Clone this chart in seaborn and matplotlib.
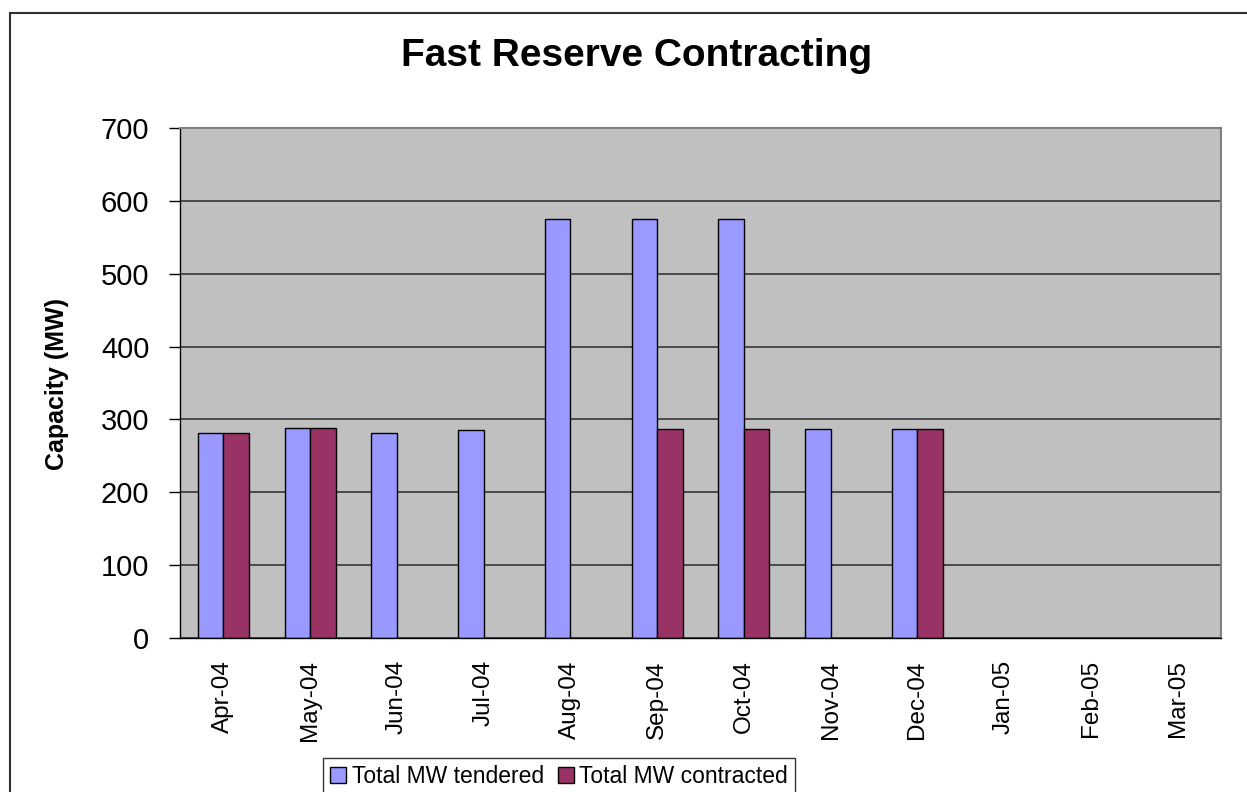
import numpy as np
import pandas as pd
import matplotlib.pyplot as plt
import seaborn as sns
from matplotlib.patches import Patch, Rectangle

# ------------------------------------------------------------
# Data
# ------------------------------------------------------------
MONTHS = ['Apr-04', 'May-04', 'Jun-04', 'Jul-04', 'Aug-04', 'Sep-04',
          'Oct-04', 'Nov-04', 'Dec-04', 'Jan-05', 'Feb-05', 'Mar-05']
TENDERED = [282, 288, 282, 286, 575, 575, 575, 287, 287, np.nan, np.nan, np.nan]
CONTRACTED = [282, 288, np.nan, np.nan, np.nan, 287, 287, np.nan, 287, np.nan, np.nan, np.nan]
SERIES = ['Total MW tendered', 'Total MW contracted']
COLORS = ['#9999FF', '#993366']
Y_TICKS = [0, 100, 200, 300, 400, 500, 600, 700]

TITLE = 'Fast Reserve Contracting'
Y_LABEL = 'Capacity (MW)'

W, H = 1247, 792

# ------------------------------------------------------------
# Plot
# ------------------------------------------------------------
sns.set_style('white')
plt.rcParams['font.family'] = ['Liberation Sans', 'DejaVu Sans']
for key in ['text.color', 'axes.labelcolor', 'xtick.color', 'ytick.color']:
    plt.rcParams[key] = 'black'

df = pd.DataFrame({
    'month': MONTHS * 2,
    'series': [SERIES[0]] * len(MONTHS) + [SERIES[1]] * len(MONTHS),
    'mw': TENDERED + CONTRACTED,
})

fig = plt.figure(figsize=(W / 100, H / 100), dpi=100)
ax = fig.add_axes([180 / W, 1 - 638 / H, (1221 - 180) / W, (638 - 128) / H])
ax.set_facecolor('#C0C0C0')

sns.barplot(data=df, x='month', y='mw', hue='series', order=MONTHS,
            hue_order=SERIES, palette=COLORS, saturation=1, width=0.59,
            edgecolor='black', linewidth=1, errorbar=None, ax=ax)

ax.set_xlim(-0.5, len(MONTHS) - 0.5)
ax.set_ylim(0, 700)
ax.set_yticks(Y_TICKS)
ax.yaxis.grid(True, color='#404040', linewidth=1.3)
ax.xaxis.grid(False)
ax.set_axisbelow(True)

for side in ['top', 'right']:
    ax.spines[side].set_color('#808080')
    ax.spines[side].set_linewidth(1.5)
for side in ['left', 'bottom']:
    ax.spines[side].set_color('black')
    ax.spines[side].set_linewidth(1)

# category labels at centres, tick marks between categories
ax.set_xticks(range(len(MONTHS)))
ax.set_xticklabels(MONTHS, rotation=90, fontsize=17.5)
ax.set_xticks(np.arange(-0.5, len(MONTHS), 1), minor=True)
ax.tick_params(axis='x', which='major', length=0, pad=16)
ax.tick_params(axis='x', which='minor', length=6, width=1, color='black', direction='out')
ax.tick_params(axis='y', which='major', length=8, width=1, color='black',
               direction='out', pad=14, labelsize=21)
ax.tick_params(left=True, bottom=True)

ax.set_xlabel('')
ax.set_ylabel(Y_LABEL, fontsize=18, fontweight='bold')
ax.yaxis.set_label_coords((69 - 180) / 1041, (638 - 384) / 510)

fig.text(637 / W, 1 - 56 / H, TITLE, fontsize=28, fontweight='bold',
         ha='center', va='center')

# legend at the bottom
if ax.get_legend() is not None:
    ax.get_legend().remove()
handles = [Patch(facecolor=c, edgecolor='black', linewidth=1) for c in COLORS]
leg = fig.legend(handles, SERIES, loc='upper left',
                 bbox_to_anchor=(323 / W, 1 - 758 / H), ncol=2,
                 fontsize=16.5, frameon=True, fancybox=False,
                 edgecolor='black', borderaxespad=0, handlelength=0.7,
                 handleheight=0.7, handletextpad=0.25, columnspacing=0.6,
                 borderpad=0.3)
leg.get_frame().set_linewidth(1)

# outer chart border (runs off the right and bottom of the image)
fig.patches.append(Rectangle((10 / W, -0.1), 1.1, 1.1 - 13 / H,
                             transform=fig.transFigure, fill=False,
                             edgecolor='#303030', linewidth=1.5))

fig.savefig('out.png', dpi=100)
